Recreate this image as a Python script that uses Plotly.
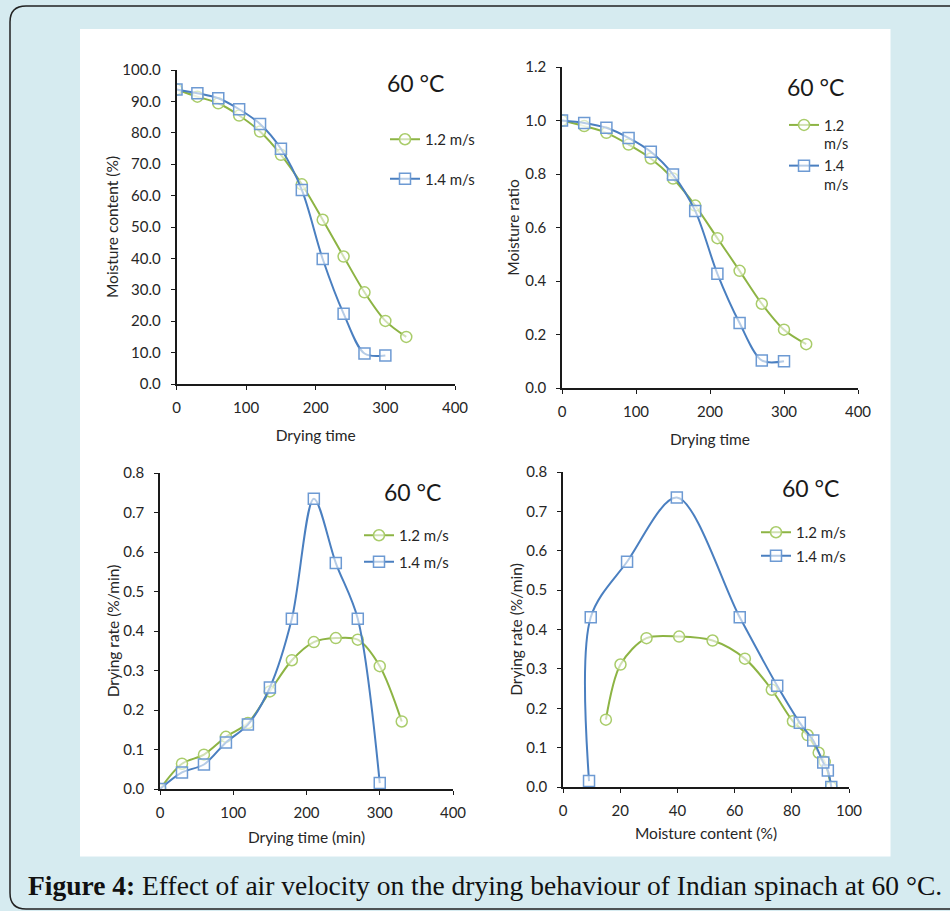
import plotly.graph_objects as go

# ---------------- data ----------------
time_12 = [0, 30, 60, 90, 120, 150, 180, 210, 240, 270, 300, 330]
time_14 = [0, 30, 60, 90, 120, 150, 180, 210, 240, 270, 300]

mc_12 = [93.8, 91.5, 89.4, 85.5, 80.4, 73.0, 63.6, 52.3, 40.6, 29.2, 20.1, 15.0]
mc_14 = [93.8, 92.6, 91.0, 87.5, 82.8, 74.9, 61.8, 39.8, 22.4, 9.7, 9.1]

mr_12 = [1.0, 0.979, 0.954, 0.910, 0.858, 0.783, 0.682, 0.560, 0.438, 0.315, 0.218, 0.164]
mr_14 = [1.0, 0.991, 0.973, 0.935, 0.883, 0.798, 0.662, 0.427, 0.243, 0.103, 0.100]

dr_12 = [0.0, 0.064, 0.087, 0.132, 0.167, 0.247, 0.326, 0.372, 0.382, 0.378, 0.311, 0.171]
dr_14 = [0.0, 0.042, 0.062, 0.118, 0.163, 0.257, 0.431, 0.735, 0.572, 0.431, 0.015]

name_12 = "1.2 m/s"
name_14 = "1.4 m/s"
temp_label = "60 °C"
caption_bold = "Figure 4:"
caption_text = " Effect of air velocity on the drying behaviour of Indian spinach at 60 °C."

# ---------------- style ----------------
W, H = 950, 911
GREEN = "#8db444"
GREEN_M = "#a9cc6a"
BLUE = "#4a7fc0"
BLUE_M = "#6d9ad3"
BG = "#d6ebf0"
FONT = "Lato"
TXT = "#262626"

def px_x(p):
    return p / W

def px_y(p):
    return 1 - p / H

fig = go.Figure()

panels = [
    dict(ax="x", ay="y", x12=time_12, x14=time_14, y12=mc_12, y14=mc_14, leg="legend",
         n12=name_12, n14=name_14),
    dict(ax="x2", ay="y2", x12=time_12, x14=time_14, y12=mr_12, y14=mr_14, leg="legend2",
         n12="1.2<br>m/s", n14="1.4<br>m/s"),
    dict(ax="x3", ay="y3", x12=time_12, x14=time_14, y12=dr_12, y14=dr_14, leg="legend3",
         n12=name_12, n14=name_14),
    dict(ax="x4", ay="y4", x12=mc_12, x14=mc_14, y12=dr_12, y14=dr_14, leg="legend4",
         n12=name_12, n14=name_14),
]

for p in panels:
    fig.add_trace(go.Scatter(
        x=p["x12"], y=p["y12"], name=p["n12"], xaxis=p["ax"], yaxis=p["ay"],
        mode="lines+markers", line=dict(color=GREEN, width=2, shape="spline", smoothing=0.9),
        marker=dict(symbol="circle", size=11, color="rgba(255,255,255,0.6)",
                    line=dict(color=GREEN_M, width=1.5)),
        legend=p["leg"], legendgroup=p["leg"] + "a"))
    fig.add_trace(go.Scatter(
        x=p["x14"], y=p["y14"], name=p["n14"], xaxis=p["ax"], yaxis=p["ay"],
        mode="lines+markers", line=dict(color=BLUE, width=2, shape="spline", smoothing=0.9),
        marker=dict(symbol="square", size=11, color="rgba(255,255,255,0.6)",
                    line=dict(color=BLUE_M, width=1.5)),
        legend=p["leg"], legendgroup=p["leg"] + "b"))

TITLE_FONT = dict(family=FONT, size=15.5, color=TXT)
axis_common = dict(showline=True, linecolor="#1a1a1a", linewidth=1.6, ticks="outside",
                   ticklen=4, tickwidth=1.4, tickcolor="#1a1a1a", showgrid=False, zeroline=False,
                   automargin=False, tickfont=dict(family=FONT, size=15, color=TXT))

def xa(dom, rng, dtick, title, standoff):
    d = dict(axis_common)
    d.update(domain=[px_x(dom[0]), px_x(dom[1])], range=rng, dtick=dtick, ticklabelstandoff=5,
             title=dict(text=title, standoff=standoff, font=TITLE_FONT))
    return d

def ya(dom, rng, dtick, fmt, title, standoff):
    d = dict(axis_common)
    d.update(domain=[px_y(dom[0]), px_y(dom[1])], range=rng, dtick=dtick, tickformat=fmt,
             ticklabelstandoff=7,
             title=dict(text=title, standoff=standoff, font=TITLE_FONT))
    return d

fig.update_layout(
    width=W, height=H, margin=dict(l=0, r=0, t=0, b=0, pad=0, autoexpand=False),
    paper_bgcolor=BG, plot_bgcolor="rgba(0,0,0,0)",
    font=dict(family=FONT, color=TXT),
    xaxis=xa((176.5, 455), [0, 400], 100, "Drying time", 15),
    yaxis=ya((384, 70), [0, 100], 10, ".1f", "Moisture content (%)", 0),
    xaxis2=xa((562, 858), [0, 400], 100, "Drying time", 15),
    yaxis2=ya((388, 67), [0, 1.2], 0.2, ".1f", "Moisture ratio", 2),
    xaxis3=xa((160, 453), [0, 400], 100, "Drying time (min)", 12),
    yaxis3=ya((789, 473), [0, 0.8], 0.1, ".1f", "Drying rate (%/min)", 0),
    xaxis4=xa((563, 849), [0, 100], 20, "Moisture content (%)", 10),
    yaxis4=ya((787, 472), [0, 0.8], 0.1, ".1f", "Drying rate (%/min)", 0),
)
for i in (2, 3, 4):
    fig.layout[f"xaxis{i}"].anchor = f"y{i}"
    fig.layout[f"yaxis{i}"].anchor = f"x{i}"

leg_common = dict(bgcolor="rgba(0,0,0,0)", borderwidth=0, font=dict(family=FONT, size=15, color=TXT),
                  xanchor="left", yanchor="top", itemwidth=30, valign="top")
fig.update_layout(
    legend=dict(leg_common, x=px_x(385), y=px_y(123), tracegroupgap=17),
    legend2=dict(leg_common, font=dict(family=FONT, size=14.5, color=TXT),
                 x=px_x(784), y=px_y(109), tracegroupgap=0),
    legend3=dict(leg_common, x=px_x(359), y=px_y(519), tracegroupgap=4),
    legend4=dict(leg_common, x=px_x(756), y=px_y(516), tracegroupgap=1),
)

for (x, y) in [(415, 83), (815, 87), (412, 492), (810, 488)]:
    fig.add_annotation(xref="paper", yref="paper", x=px_x(x), y=px_y(y), text=temp_label,
                       showarrow=False, font=dict(family=FONT, size=23, color="#1a1a1a"),
                       xanchor="center", yanchor="middle")

fig.add_annotation(xref="paper", yref="paper", x=px_x(485), y=px_y(885),
                   text="<b>" + caption_bold + "</b>" + caption_text, showarrow=False,
                   font=dict(family="Liberation Serif", size=27.5, color="#111111"),
                   xanchor="center", yanchor="middle")

fig.add_shape(type="rect", xref="paper", yref="paper", layer="below",
              x0=px_x(80), x1=px_x(890.5), y0=px_y(856.5), y1=px_y(29),
              fillcolor="white", line=dict(width=0))
r = 16
path = (f"M {px_x(950)} {px_y(6)} L {px_x(10 + r)} {px_y(6)} "
        f"Q {px_x(10)} {px_y(6)} {px_x(10)} {px_y(6 + r)} "
        f"L {px_x(10)} {px_y(909 - r)} Q {px_x(10)} {px_y(909)} {px_x(10 + r)} {px_y(909)} "
        f"L {px_x(950)} {px_y(909)}")
fig.add_shape(type="path", xref="paper", yref="paper", path=path, layer="below",
              line=dict(color="#222222", width=1.5))

fig.write_html("out.html", config={"displayModeBar": False},
               post_script="document.body.style.margin='0';document.body.style.padding='0';"
                           "document.documentElement.style.overflow='hidden';")
